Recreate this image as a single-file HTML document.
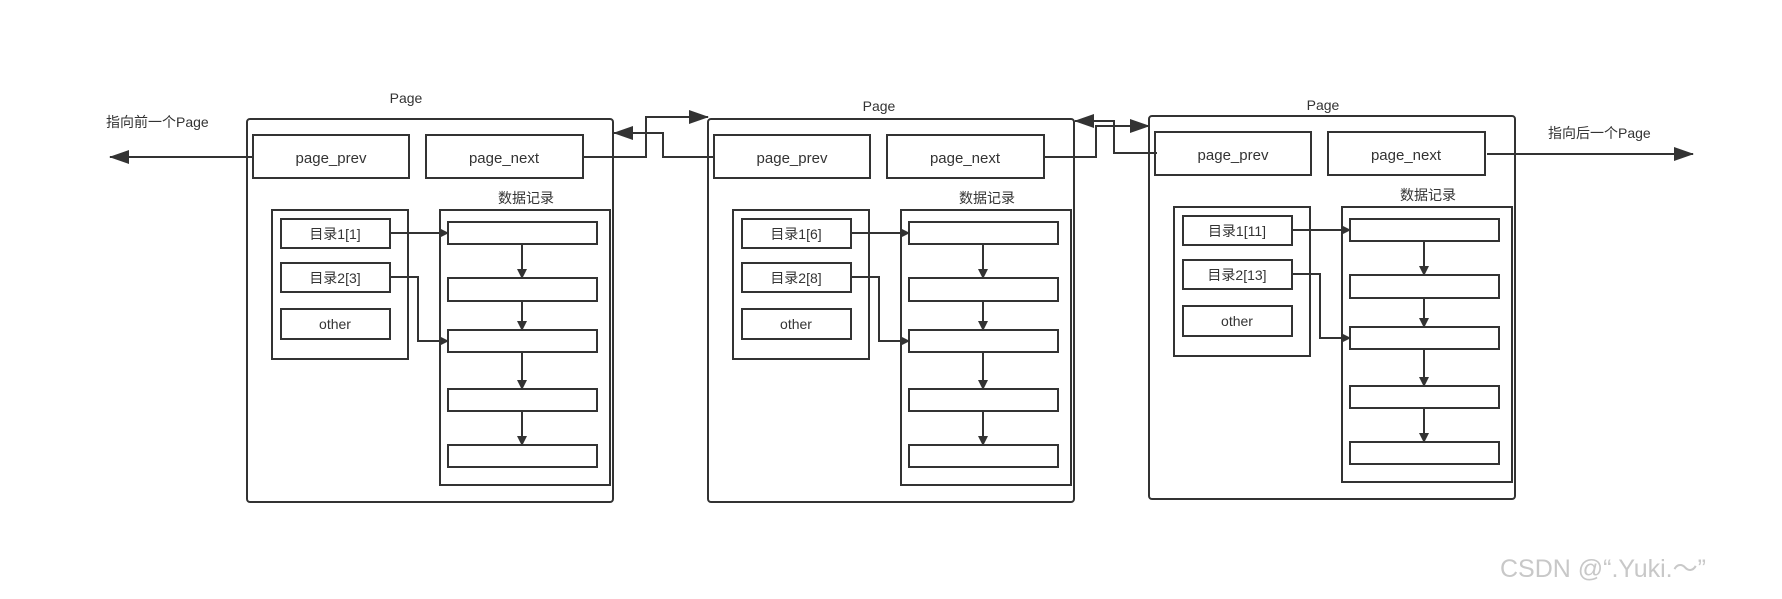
<!DOCTYPE html>
<html><head><meta charset="utf-8"><style>
html,body{margin:0;padding:0;background:#fff;}
svg{display:block;}
text{font-family:"Liberation Sans","Noto Sans CJK SC",sans-serif;fill:#333;}
</style></head><body>
<svg width="1782" height="599" viewBox="0 0 1782 599" xmlns="http://www.w3.org/2000/svg">
<defs>
<marker id="a" markerWidth="10" markerHeight="10" refX="9" refY="5" orient="auto" markerUnits="userSpaceOnUse">
<path d="M0,0 L10,5 L0,10 z" fill="#333"/></marker>
<marker id="b" markerWidth="20" markerHeight="14" refX="19" refY="7" orient="auto" markerUnits="userSpaceOnUse">
<path d="M0,0 L20,7 L0,14 z" fill="#333"/></marker>
<g id="pg">
<rect x="247" y="119" width="366" height="383" rx="3" fill="none" stroke="#333" stroke-width="2"/>
<rect x="253" y="135" width="156" height="43" fill="#fff" stroke="#333" stroke-width="2"/>
<text x="331" y="163" font-size="15" text-anchor="middle">page_prev</text>
<rect x="426" y="135" width="157" height="43" fill="#fff" stroke="#333" stroke-width="2"/>
<text x="504" y="163" font-size="15" text-anchor="middle">page_next</text>
<text x="526" y="203" font-size="14" text-anchor="middle">数据记录</text>
<rect x="272" y="210" width="136" height="149" fill="none" stroke="#333" stroke-width="2"/>
<rect x="440" y="210" width="170" height="275" fill="none" stroke="#333" stroke-width="2"/>
<rect x="448" y="222" width="149" height="22" fill="#fff" stroke="#333" stroke-width="2"/>
<rect x="448" y="278" width="149" height="23" fill="#fff" stroke="#333" stroke-width="2"/>
<rect x="448" y="330" width="149" height="22" fill="#fff" stroke="#333" stroke-width="2"/>
<rect x="448" y="389" width="149" height="22" fill="#fff" stroke="#333" stroke-width="2"/>
<rect x="448" y="445" width="149" height="22" fill="#fff" stroke="#333" stroke-width="2"/>
<g stroke="#333" stroke-width="2" fill="none">
<line x1="522" y1="244" x2="522" y2="278" marker-end="url(#a)"/>
<line x1="522" y1="301" x2="522" y2="330" marker-end="url(#a)"/>
<line x1="522" y1="352" x2="522" y2="389" marker-end="url(#a)"/>
<line x1="522" y1="411" x2="522" y2="445" marker-end="url(#a)"/>
<line x1="390" y1="233" x2="448" y2="233" marker-end="url(#a)"/>
<polyline points="390,277 418,277 418,341 448,341" marker-end="url(#a)"/>
</g>
<rect x="281" y="219" width="109" height="29" fill="#fff" stroke="#333" stroke-width="2"/>
<rect x="281" y="263" width="109" height="29" fill="#fff" stroke="#333" stroke-width="2"/>
<rect x="281" y="309" width="109" height="30" fill="#fff" stroke="#333" stroke-width="2"/>
<text x="335" y="329" font-size="14" text-anchor="middle">other</text>
</g>
</defs>

<text x="406" y="103" font-size="14" text-anchor="middle">Page</text>
<text x="879" y="111" font-size="14" text-anchor="middle">Page</text>
<text x="1323" y="110" font-size="14" text-anchor="middle">Page</text>

<use href="#pg"/>
<text x="335" y="239" font-size="14" text-anchor="middle">目录1[1]</text>
<text x="335" y="283" font-size="14" text-anchor="middle">目录2[3]</text>

<g transform="translate(461,0)"><use href="#pg"/></g>
<text x="796" y="239" font-size="14" text-anchor="middle">目录1[6]</text>
<text x="796" y="283" font-size="14" text-anchor="middle">目录2[8]</text>

<g transform="translate(902,-3)"><use href="#pg"/></g>
<text x="1237" y="236" font-size="14" text-anchor="middle">目录1[11]</text>
<text x="1237" y="280" font-size="14" text-anchor="middle">目录2[13]</text>

<g stroke="#333" stroke-width="2" fill="none">
<line x1="253" y1="157" x2="110" y2="157" marker-end="url(#b)"/>
<line x1="1487" y1="154" x2="1693" y2="154" marker-end="url(#b)"/>
<polyline points="583,157 646,157 646,117 708,117" marker-end="url(#b)"/>
<polyline points="714,157 663,157 663,133 614,133" marker-end="url(#b)"/>
<polyline points="1044,157 1096,157 1096,126 1149,126" marker-end="url(#b)"/>
<polyline points="1157,153 1114,153 1114,121 1075,121" marker-end="url(#b)"/>
</g>

<text x="106" y="127" font-size="14">指向前一个Page</text>
<text x="1548" y="138" font-size="14">指向后一个Page</text>
<text x="1500" y="577" font-size="25" style="fill:#c8c8c8">CSDN @“.Yuki.～”</text>
</svg>
</body></html>
